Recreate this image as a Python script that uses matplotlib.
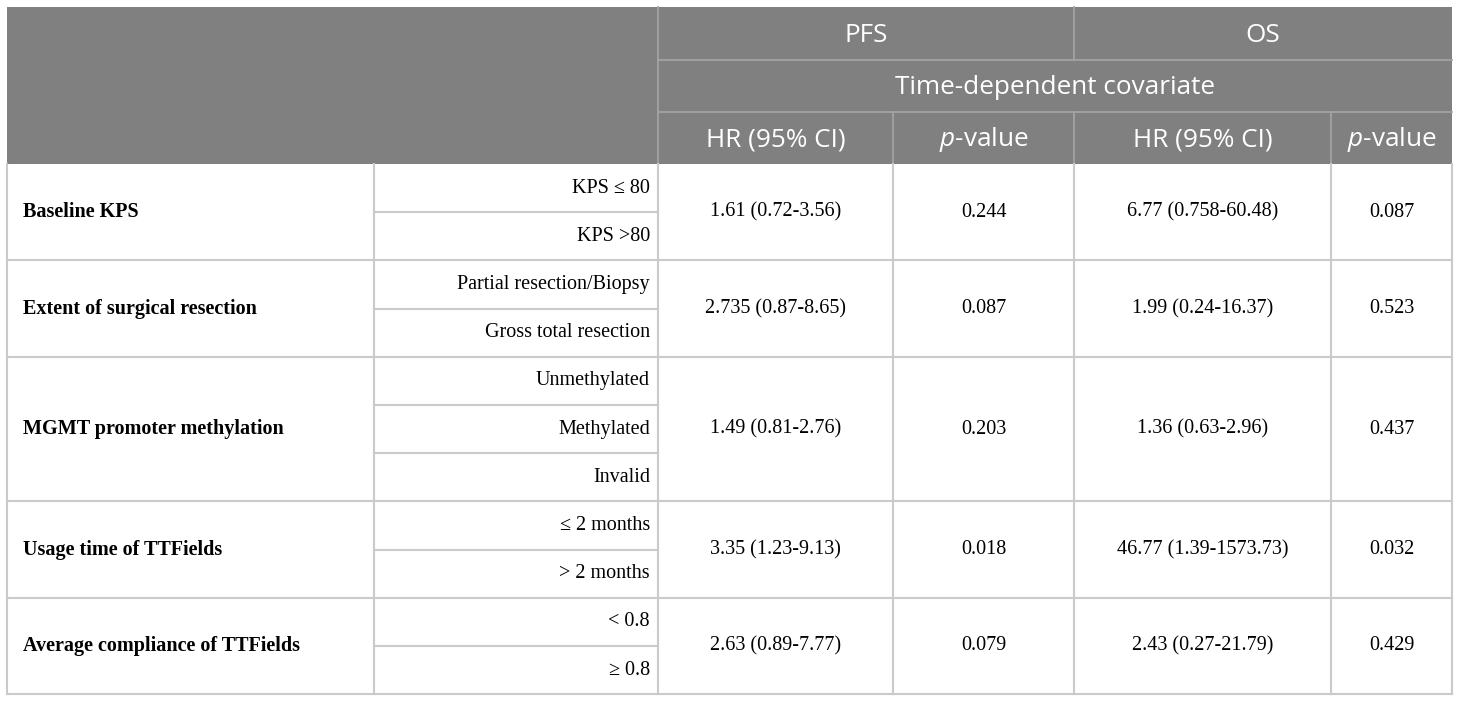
import matplotlib
matplotlib.use("Agg")
import matplotlib.pyplot as plt

plt.rcParams['mathtext.fontset'] = 'custom'
plt.rcParams['mathtext.it'] = 'Open Sans:italic'
plt.rcParams['mathtext.rm'] = 'Open Sans'

# table content
groups = ['Baseline KPS', 'Extent of surgical resection', 'MGMT promoter methylation',
          'Usage time of TTFields', 'Average compliance of TTFields']
levels = [['KPS \u2264 80', 'KPS >80'],
          ['Partial resection/Biopsy', 'Gross total resection'],
          ['Unmethylated', 'Methylated', 'Invalid'],
          ['\u2264 2 months', '> 2 months'],
          ['< 0.8', '\u2265 0.8']]
pfs_hr = ['1.61 (0.72-3.56)', '2.735 (0.87-8.65)', '1.49 (0.81-2.76)',
          '3.35 (1.23-9.13)', '2.63 (0.89-7.77)']
pfs_p = ['0.244', '0.087', '0.203', '0.018', '0.079']
os_hr = ['6.77 (0.758-60.48)', '1.99 (0.24-16.37)', '1.36 (0.63-2.96)',
         '46.77 (1.39-1573.73)', '2.43 (0.27-21.79)']
os_p = ['0.087', '0.523', '0.437', '0.032', '0.429']
head_top = ['PFS', 'OS']
head_mid = 'Time-dependent covariate'
head_low = ['HR (95% CI)', r'$\mathit{p}$-value', 'HR (95% CI)', r'$\mathit{p}$-value']

# layout in pixels
W, H = 1460, 703
cols = [7, 374, 658, 893, 1074, 1331, 1452]
hrows = [7, 60, 112, 164]
sub_h = 48.2
head_bg = '#808080'
head_line = '#a3a3a3'
body_line = '#cacaca'
sans = ['Open Sans', 'DejaVu Sans']
serif = ['Liberation Serif', 'DejaVu Serif']
hfs = 18.8
bfs = 14.5

fig = plt.figure(figsize=(W / 100, H / 100), dpi=100)
ax = fig.add_axes([0, 0, 1, 1])
ax.set_xlim(0, W)
ax.set_ylim(H, 0)
ax.axis('off')

# header block
ax.add_patch(plt.Rectangle((cols[0], hrows[0]), cols[-1] - cols[0], hrows[3] - hrows[0],
                           facecolor=head_bg, edgecolor='none'))
lw_h = 1.3
ax.plot([cols[2], cols[-1]], [hrows[1]] * 2, color=head_line, lw=lw_h)
ax.plot([cols[2], cols[-1]], [hrows[2]] * 2, color=head_line, lw=lw_h)
ax.plot([cols[2]] * 2, [hrows[0], hrows[3]], color=head_line, lw=lw_h)
ax.plot([cols[4]] * 2, [hrows[0], hrows[1]], color=head_line, lw=lw_h)
ax.plot([cols[4]] * 2, [hrows[2], hrows[3]], color=head_line, lw=lw_h)
ax.plot([cols[3]] * 2, [hrows[2], hrows[3]], color=head_line, lw=lw_h)
ax.plot([cols[5]] * 2, [hrows[2], hrows[3]], color=head_line, lw=lw_h)

hy = [(hrows[i] + hrows[i + 1]) / 2 + 2 for i in range(3)]
ax.text((cols[2] + cols[4]) / 2, hy[0], head_top[0], color='white', fontsize=hfs,
        family=sans, ha='center', va='center')
ax.text((cols[4] + cols[6]) / 2, hy[0], head_top[1], color='white', fontsize=hfs,
        family=sans, ha='center', va='center')
ax.text((cols[2] + cols[6]) / 2, hy[1], head_mid, color='white', fontsize=hfs,
        family=sans, ha='center', va='center')
for j, t in enumerate(head_low):
    ax.text((cols[2 + j] + cols[3 + j]) / 2, hy[2], t, color='white', fontsize=hfs,
            family=sans, ha='center', va='center')

# body
lw_b = 1.5
y = hrows[3]
for g, name in enumerate(groups):
    n = len(levels[g])
    y0, y1 = y, y + n * sub_h
    ym = (y0 + y1) / 2
    ax.text(cols[0] + 16, ym, name, fontsize=bfs, family=serif, weight='bold',
            ha='left', va='center')
    for k, lv in enumerate(levels[g]):
        ax.text(cols[2] - 8, y0 + (k + 0.5) * sub_h, lv, fontsize=bfs, family=serif,
                ha='right', va='center')
        if k > 0:
            ax.plot([cols[1], cols[2]], [y0 + k * sub_h] * 2, color=body_line, lw=lw_b)
    vals = [pfs_hr[g], pfs_p[g], os_hr[g], os_p[g]]
    for j, v in enumerate(vals):
        ax.text((cols[2 + j] + cols[3 + j]) / 2, ym, v, fontsize=bfs, family=serif,
                ha='center', va='center')
    ax.plot([cols[0], cols[-1]], [y1] * 2, color=body_line, lw=lw_b)
    y = y1

for x in cols:
    ax.plot([x, x], [hrows[3], y], color=body_line, lw=lw_b)

fig.savefig('out.png', dpi=100, facecolor='white')
